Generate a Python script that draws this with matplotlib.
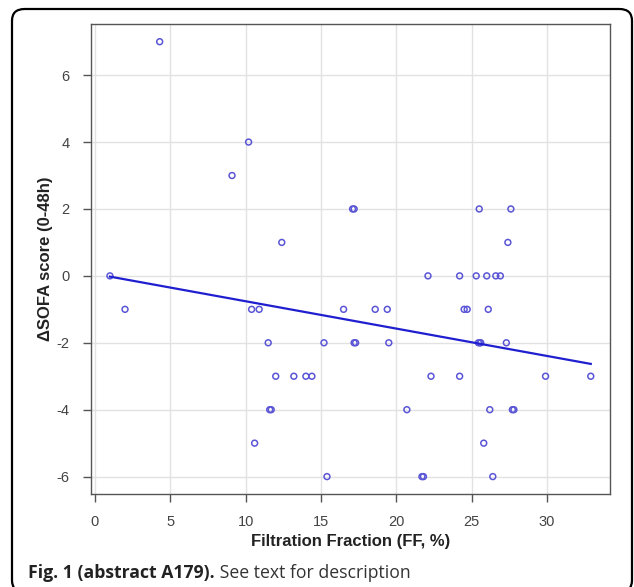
import numpy as np
import matplotlib
matplotlib.use("Agg")
import matplotlib.pyplot as plt
from matplotlib.patches import FancyBboxPatch

plt.rcParams["axes.unicode_minus"] = False

# Data: filtration fraction (%) vs delta SOFA score
ff = [1.0, 2.0, 4.3, 9.1, 10.2, 10.4, 10.6, 10.9, 11.5, 11.6, 11.7, 12.0, 12.4,
      13.2, 14.0, 14.4, 15.2, 15.4, 16.5, 17.1, 17.2, 17.2, 17.3, 18.6, 19.4, 19.5,
      20.7, 21.7, 21.8, 22.1, 22.3, 24.2, 24.2, 24.5, 24.7, 25.3, 25.5, 25.45, 25.55,
      25.6, 25.8, 26.0, 26.1, 26.2, 26.4, 26.6, 26.9, 27.3, 27.4, 27.6, 27.7, 27.8,
      29.9, 32.9]
dsofa = [0, -1, 7, 3, 4, -1, -5, -1, -2, -4, -4, -3, 1,
         -3, -3, -3, -2, -6, -1, 2, 2, -2, -2, -1, -1, -2,
         -4, -6, -6, 0, -3, 0, -3, -1, -1, 0, 2, -2, -2,
         -2, -5, 0, -1, -4, -6, 0, 0, -2, 1, 2, -4, -4,
         -3, -3]

fit_intercept = 0.06
fit_slope = -0.0818

x_ticks = [0, 5, 10, 15, 20, 25, 30]
y_ticks = [-6, -4, -2, 0, 2, 4, 6]
x_label = "Filtration Fraction (FF, %)"
y_label = "ΔSOFA score (0-48h)"
caption_bold = "Fig. 1 (abstract A179)."
caption_rest = " See text for description"

W, H = 634, 587
fig = plt.figure(figsize=(W / 100, H / 100), dpi=100)

# outer rounded frame
frame = FancyBboxPatch((12 / W, 1 - 592 / H), (632 - 12) / W, (592 - 9) / H,
                       boxstyle="round,pad=0,rounding_size=0.02",
                       transform=fig.transFigure, fill=False,
                       edgecolor="black", linewidth=1.6, clip_on=False)
fig.patches.append(frame)

ax = fig.add_axes([90.7 / W, 1 - 494 / H, (610 - 90.7) / W, (494 - 24.3) / H])

xs = np.array(ff)
ys = np.array(dsofa)
xmin, xmax = xs.min(), xs.max()
ymin, ymax = ys.min(), ys.max()
xpad = 0.04 * (xmax - xmin)
ypad = 0.04 * (ymax - ymin)
ax.set_xlim(xmin - xpad, xmax + xpad)
ax.set_ylim(ymin - ypad, ymax + ypad)

ax.set_xticks(x_ticks)
ax.set_yticks(y_ticks)
ax.grid(True, color="#e2e2e2", linewidth=1.0)
ax.set_axisbelow(True)

ax.scatter(xs, ys, s=18, facecolors="none", edgecolors="#5a55d6",
           linewidths=1.1, zorder=3)

lx = np.array([xmin, xmax])
ax.plot(lx, fit_intercept + fit_slope * lx, color="#1f1fd0", linewidth=1.6, zorder=4)

for s in ax.spines.values():
    s.set_color("#555555")
    s.set_linewidth(1.0)

ax.tick_params(axis="both", direction="out", length=6, width=1.0,
               color="#555555", labelcolor="#444444", labelsize=10.5)
for lab in ax.get_xticklabels() + ax.get_yticklabels():
    lab.set_family("Liberation Sans")
ax.tick_params(axis="x", pad=9)
ax.tick_params(axis="y", pad=9)

ax.set_xlabel(x_label, fontsize=12, fontweight="bold", family="Liberation Sans",
              color="#222222", labelpad=4)
ax.set_ylabel(y_label, fontsize=12, fontweight="bold", family="Liberation Sans",
              color="#222222", labelpad=3)

t1 = fig.text(28 / W, 1 - 578 / H, caption_bold, fontsize=12.7, fontweight="bold",
              family="Open Sans", color="#222222")
fig.canvas.draw()
bb = t1.get_window_extent()
fig.text(bb.x1 / W, 1 - 578 / H, caption_rest, fontsize=12.7,
         family="Open Sans", color="#333333")

fig.savefig("out.png", dpi=100)
